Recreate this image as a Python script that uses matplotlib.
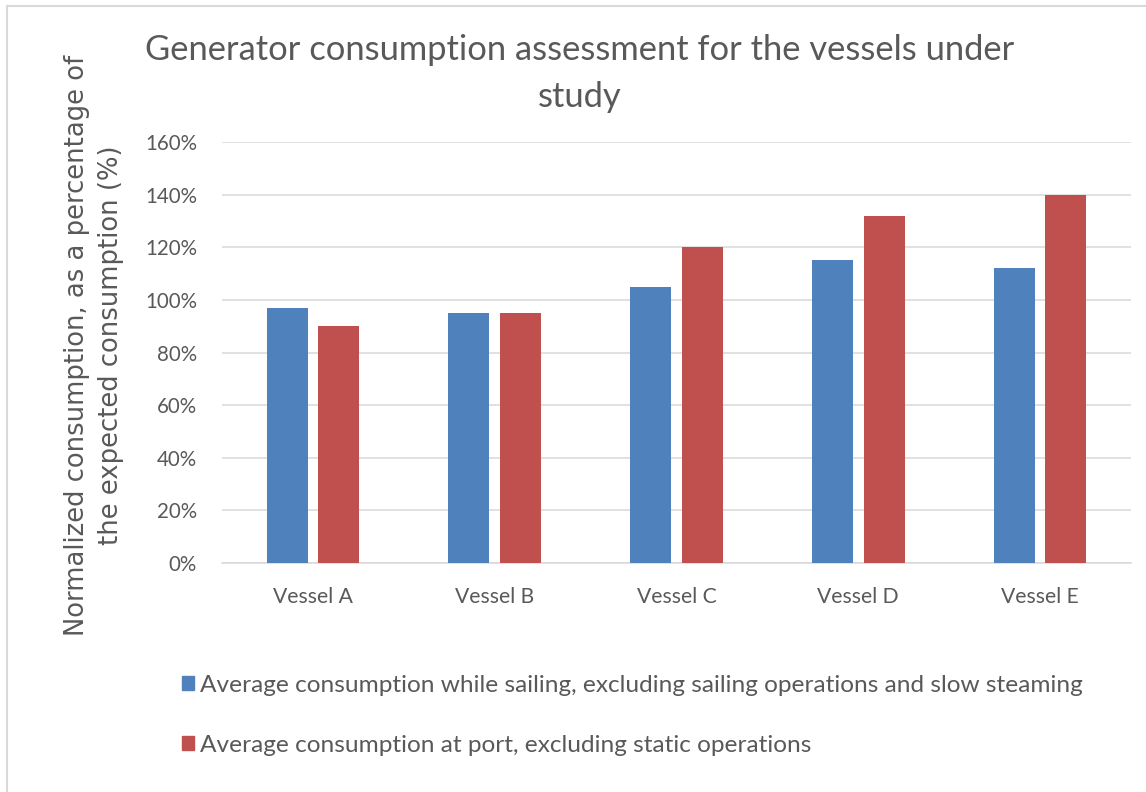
import numpy as np
import matplotlib
matplotlib.use("Agg")
import matplotlib.pyplot as plt
from matplotlib.lines import Line2D
from matplotlib.patches import Patch

# data
vessels = ["Vessel A", "Vessel B", "Vessel C", "Vessel D", "Vessel E"]
sailing = [97, 95, 105, 115, 112]
port = [90, 95, 120, 132, 140]
series_names = [
    "Average consumption while sailing, excluding sailing operations and slow steaming",
    "Average consumption at port, excluding static operations",
]
yticks = [0, 20, 40, 60, 80, 100, 120, 140, 160]

BLUE = "#4F81BD"
RED = "#C0504D"
TXT = "#595959"
GRID = "#D9D9D9"

plt.rcParams["font.family"] = ["Lato", "DejaVu Sans"]

fig = plt.figure(figsize=(11.46, 7.92), dpi=100)
ax = fig.add_axes([0.1937, 0.2891, 0.7932, 0.5316])

x = np.arange(len(vessels))
w = 0.225
off = 0.142
ax.bar(x - off, sailing, w, color=BLUE, zorder=3)
ax.bar(x + off, port, w, color=RED, zorder=3)

ax.set_xlim(-0.5, len(vessels) - 0.5)
ax.set_ylim(0, 160)
ax.set_yticks(yticks)
ax.set_yticklabels([f"{t}%" for t in yticks])
ax.set_xticks(x)
ax.set_xticklabels(vessels)
ax.yaxis.grid(True, color=GRID, linewidth=1.1, zorder=0)
for s in ["top", "right", "left"]:
    ax.spines[s].set_visible(False)
ax.spines["bottom"].set_color(GRID)
ax.spines["bottom"].set_linewidth(1.1)
ax.tick_params(axis="y", length=0, pad=18, labelsize=14.8, labelcolor=TXT)
ax.tick_params(axis="x", length=0, pad=17, labelsize=15.2, labelcolor=TXT)

fig.text(0.506, 0.907, "Generator consumption assessment for the vessels under\nstudy",
         ha="center", va="center", fontsize=24.8, color=TXT, linespacing=1.6)

fig.text(0.082, 0.564, "Normalized consumption, as a percentage of\nthe expected consumption (%)",
         rotation=90, ha="center", va="center", fontsize=18.6, color=TXT,
         family=["DejaVu Sans"], linespacing=1.4)

handles = [Patch(color=BLUE), Patch(color=RED)]
fig.legend(handles, series_names, loc="center left", bbox_to_anchor=(0.148, 0.097),
           frameon=False, fontsize=17.6, labelcolor=TXT, handlelength=0.5,
           handleheight=0.5, handletextpad=0.25, labelspacing=1.6, borderpad=0)

# light frame on top and left
fig.add_artist(Line2D([0.006, 0.006], [0, 0.993], transform=fig.transFigure,
                      color=GRID, linewidth=1.5))
fig.add_artist(Line2D([0.006, 1], [0.993, 0.993], transform=fig.transFigure,
                      color=GRID, linewidth=1.5))

fig.savefig("out.png", dpi=100)
